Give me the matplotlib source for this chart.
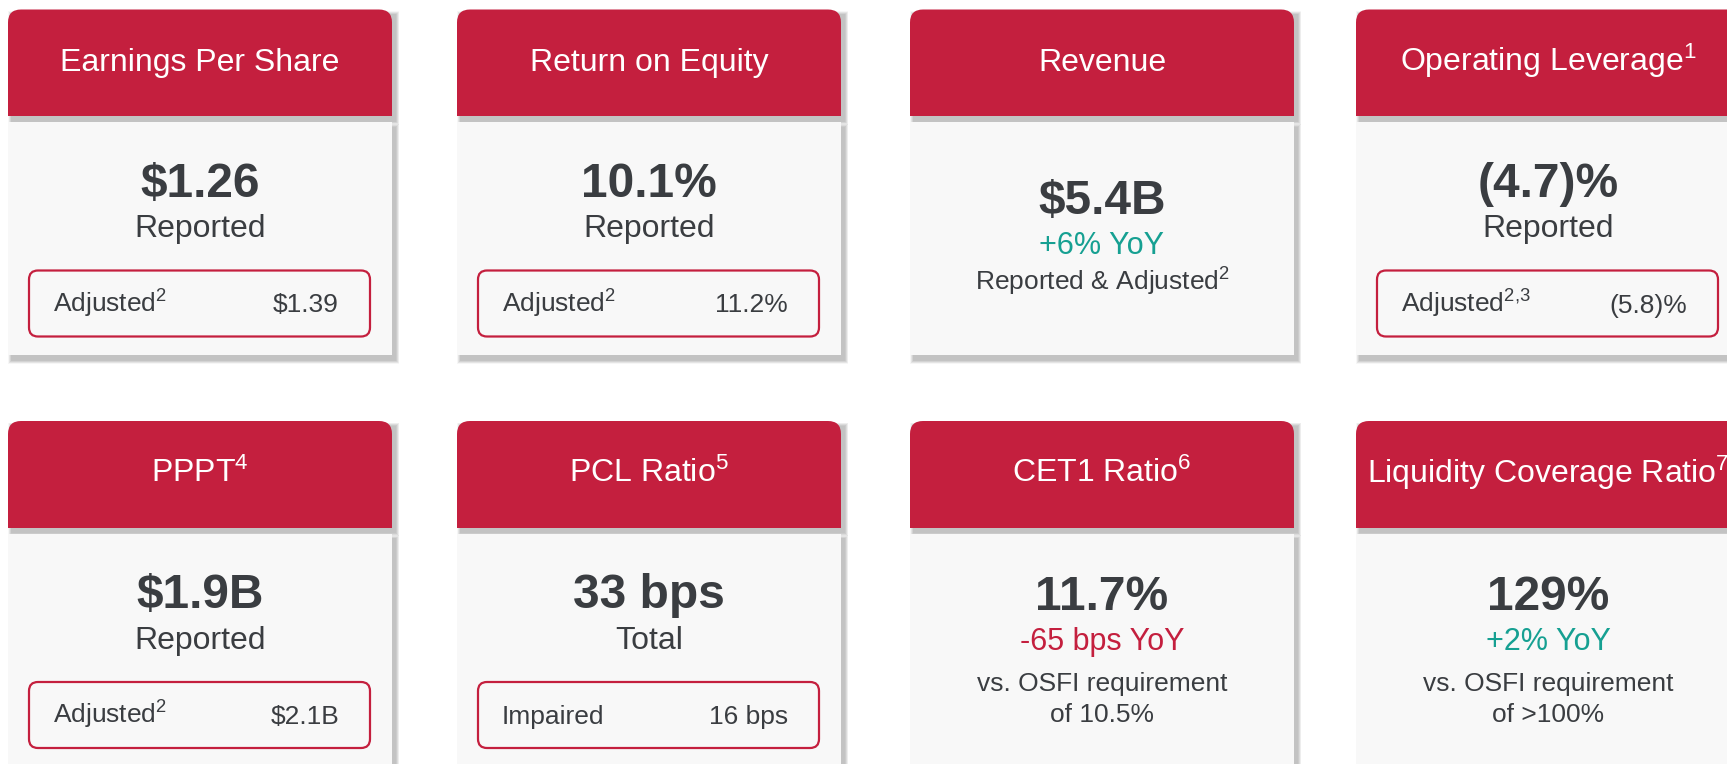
import matplotlib
matplotlib.use('Agg')
import matplotlib.pyplot as plt
from matplotlib.patches import FancyBboxPatch, Rectangle

plt.rcParams['font.family'] = ['Liberation Sans', 'DejaVu Sans']
plt.rcParams['mathtext.fontset'] = 'custom'
plt.rcParams['mathtext.rm'] = 'Liberation Sans'
plt.rcParams['mathtext.it'] = 'Liberation Sans'
plt.rcParams['mathtext.bf'] = 'Liberation Sans:bold'

# Данные карточек (строка 1, затем строка 2)
titles = ['Earnings Per Share', 'Return on Equity', 'Revenue', 'Operating Leverage',
          'PPPT', 'PCL Ratio', 'CET1 Ratio', 'Liquidity Coverage Ratio']
title_sups = ['', '', '', '1', '4', '5', '6', '7']
big_values = ['$1.26', '10.1%', '$5.4B', '(4.7)%', '$1.9B', '33 bps', '11.7%', '129%']
sub_labels = ['Reported', 'Reported', '+6% YoY', 'Reported',
              'Reported', 'Total', '-65 bps YoY', '+2% YoY']
sub_kind = ['plain', 'plain', 'up', 'plain', 'plain', 'plain', 'down', 'up']
box_labels = ['Adjusted', 'Adjusted', None, 'Adjusted', 'Adjusted', 'Impaired', None, None]
box_sups = ['2', '2', None, '2,\\!3', '2', '', None, None]
box_values = ['$1.39', '11.2%', None, '(5.8)%', '$2.1B', '16 bps', None, None]
notes = [None, None, ['Reported & Adjusted$^{2}$'], None, None, None,
         ['vs. OSFI requirement', 'of 10.5%'], ['vs. OSFI requirement', 'of >100%']]

RED = '#C41F3E'
TEAL = '#16A092'
DARK = '#3A3D41'
BODY = '#F8F8F8'
sub_colors = {'plain': DARK, 'up': TEAL, 'down': RED}

W, H = 1727, 764
col_x = [8, 457, 910, 1356]
row_y = [9.5, 421]
card_w = 384
head_h = 106.5
body_gap = 112.5
body_h = [233, 400]


def shadow(ax, x, y, w, h, dx=4, dy=5):
    # Мягкая тень из нескольких полупрозрачных слоёв
    for k in range(7, 0, -1):
        ax.add_patch(Rectangle((x + dx - k / 2, y + dy - k / 2), w + k, h + k,
                               facecolor='black', edgecolor='none', alpha=0.035, zorder=1))


fig = plt.figure(figsize=(W / 100, H / 100), dpi=100)
ax = fig.add_axes([0, 0, 1, 1])
ax.set_xlim(0, W)
ax.set_ylim(H, 0)
ax.axis('off')

for i in range(8):
    r, c = divmod(i, 4)
    x0 = col_x[c]
    y0 = row_y[r]
    cx = x0 + card_w / 2

    # Заголовок
    shadow(ax, x0, y0, card_w, head_h)
    ax.add_patch(FancyBboxPatch((x0, y0), card_w, head_h,
                                boxstyle='round,pad=0,rounding_size=13',
                                facecolor=RED, edgecolor='none', zorder=3))
    ax.add_patch(Rectangle((x0, y0 + head_h / 2), card_w, head_h / 2,
                           facecolor=RED, edgecolor='none', zorder=3))
    t = titles[i] + (f'$^{{{title_sups[i]}}}$' if title_sups[i] else '')
    ax.text(cx, y0 + 61.5, t, color='white', fontsize=23, ha='center', va='baseline', zorder=5)

    # Тело карточки
    by = y0 + body_gap
    shadow(ax, x0, by, card_w, body_h[r])
    ax.add_patch(Rectangle((x0, by), card_w, body_h[r], facecolor=BODY,
                           edgecolor='none', zorder=3))

    if box_labels[i] is not None:
        ax.text(cx, y0 + 187.5, big_values[i], color=DARK, fontsize=34.5, fontweight='bold',
                ha='center', va='baseline', zorder=5)
        ax.text(cx, y0 + 228, sub_labels[i], color=sub_colors[sub_kind[i]], fontsize=23,
                ha='center', va='baseline', zorder=5)
        bx0 = x0 + 21
        bx1 = x0 + card_w - 22
        bt = y0 + 261
        ax.add_patch(FancyBboxPatch((bx0, bt), bx1 - bx0, 66,
                                    boxstyle='round,pad=0,rounding_size=9',
                                    facecolor=BODY, edgecolor=RED, linewidth=1.6, zorder=4))
        lab = box_labels[i] + (f'$^{{{box_sups[i]}}}$' if box_sups[i] else '')
        ax.text(bx0 + 24, y0 + 303, lab, color=DARK, fontsize=19, ha='left', va='baseline',
                zorder=5)
        ax.text(bx1 - 31, y0 + 303, box_values[i], color=DARK, fontsize=19, ha='right',
                va='baseline', zorder=5)
    else:
        if len(notes[i]) == 1:
            ys = [204, 244.5, 281]
        else:
            ys = [189, 229, 269.5, 301.5]
        ax.text(cx, y0 + ys[0], big_values[i], color=DARK, fontsize=34.5, fontweight='bold',
                ha='center', va='baseline', zorder=5)
        ax.text(cx, y0 + ys[1], sub_labels[i], color=sub_colors[sub_kind[i]], fontsize=22,
                ha='center', va='baseline', zorder=5)
        for line, yy in zip(notes[i], ys[2:]):
            ax.text(cx, y0 + yy, line, color=DARK, fontsize=19, ha='center', va='baseline',
                    zorder=5)

fig.savefig('out.png', dpi=100, facecolor='white')
